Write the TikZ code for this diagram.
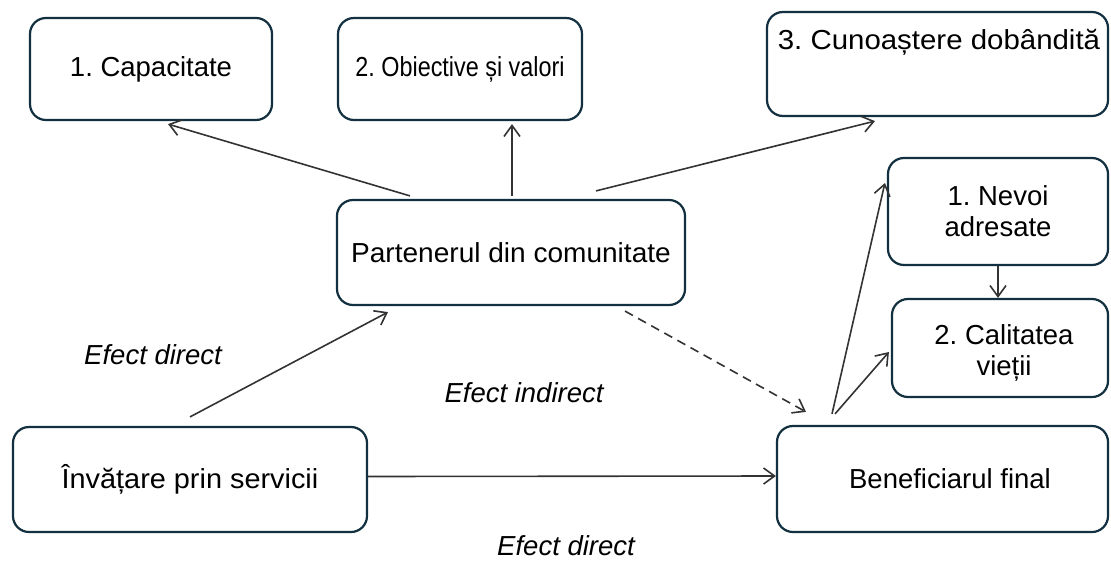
\documentclass[tikz,border=0pt]{standalone}
\usepackage{fontspec}
\usepackage{graphicx}
\setmainfont{Liberation Sans}
\usetikzlibrary{arrows.meta,calc}
\frenchspacing
\definecolor{boxline}{HTML}{12303F}
\definecolor{arrowc}{HTML}{333333}
\newcommand{\fs}[1]{\fontsize{#1}{31}\selectfont}
\newcommand{\xsc}[2]{\scalebox{#1}[1]{#2}}
\tikzset{
  box/.style={draw=boxline, line width=2.2pt, rounded corners=16pt, fill=white,
    align=center, inner sep=0pt, font=\fs{27.5}},
  conn/.style={draw=arrowc, line width=1.6pt, -{Straight Barb[length=11pt,width=16pt,line width=1.6pt]}},
  lbl/.style={font=\fs{27.5}\itshape, inner sep=0pt}
}
\begin{document}
\begin{tikzpicture}[x=1pt,y=-1pt]
\useasboundingbox (0,0) rectangle (1111,560);
\node[box, minimum width=242pt, minimum height=102pt] (cap) at (151,69) {1. Capacitate};
\node[box, minimum width=244pt, minimum height=102pt] (obj) at (460,69) {\xsc{0.85}{2. Obiective și valori}};
\node[box, minimum width=341pt, minimum height=104pt] (cun) at (937.5,64) {};
\node[font=\fs{27.5}, inner sep=0pt] (cuntxt) at (939,42) {\xsc{1.07}{3. Cunoaștere dobândită}};
\node[box, minimum width=348pt, minimum height=105pt] (part) at (511,252.5) {\xsc{1.02}{Partenerul din comunitate}};
\node[box, minimum width=220pt, minimum height=107pt] (nev) at (998,211.5) {1. Nevoi\\adresate};
\node[box, minimum width=216pt, minimum height=98pt] (cal) at (1000,348) {};
\node[align=center, inner sep=0pt, font=\fs{27.5}] (caltxt) at (1004,353) {2. Calitatea\\vieții};
\node[box, minimum width=331pt, minimum height=106pt] (ben) at (942.5,479) {};
\node[inner sep=0pt, font=\fs{27.5}] (bentxt) at (950,479) {Beneficiarul final};
\node[box, minimum width=354pt, minimum height=105pt] (inv) at (190,479.5) {\xsc{1.05}{Învățare prin servicii}};

\node[lbl] (l1) at (153,355) {Efect direct};
\node[lbl] (l2) at (524,393) {Efect indirect};
\node[lbl] (l3) at (566,546) {Efect direct};

\draw[conn] ([xshift=-101pt,yshift=3pt]part.north) -- ([xshift=17pt,yshift=-3pt]cap.south);
\draw[conn] ([xshift=1pt,yshift=3pt]part.north) -- ([xshift=52pt,yshift=-3pt]obj.south);
\draw[conn] ([xshift=85pt,yshift=8pt]part.north) -- ([xshift=-62.5pt,yshift=-4pt]cun.south);
\draw[conn] ([yshift=9pt]inv.north) -- ([xshift=-123pt,yshift=-6pt]part.south);
\draw[conn, dash pattern=on 9pt off 6pt] ([xshift=114pt,yshift=-5pt]part.south) -- ([xshift=-136.5pt,yshift=13pt]ben.north);
\draw[conn] ([yshift=3pt]inv.east) -- ([yshift=3pt]ben.west);
\draw[conn] ([xshift=-110.5pt,yshift=11pt]ben.north) -- ([xshift=-2pt,yshift=28.5pt]nev.west);
\draw[conn] ([xshift=-107.5pt,yshift=11pt]ben.north) -- ([xshift=-2pt,yshift=-4pt]cal.west);
\draw[conn] (nev.south) -- (nev.south |- cal.north);
\end{tikzpicture}
\end{document}
